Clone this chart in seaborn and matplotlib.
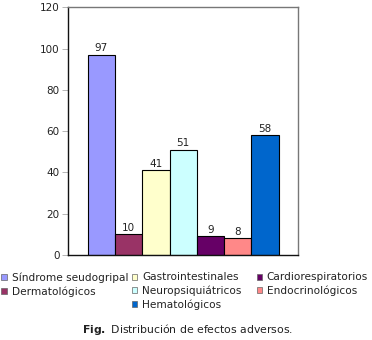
import matplotlib
matplotlib.use("Agg")
import matplotlib.pyplot as plt
from matplotlib.patches import Patch
import seaborn as sns
import pandas as pd

categories = ["Síndrome seudogripal", "Dermatológicos", "Gastrointestinales",
              "Neuropsiquiátricos", "Cardiorespiratorios", "Endocrinológicos",
              "Hematológicos"]
values = [97, 10, 41, 51, 9, 8, 58]
colors = ["#9999FF", "#993366", "#FFFFCC", "#CCFFFF", "#660066", "#FF8888", "#0066CC"]
yticks = [0, 20, 40, 60, 80, 100, 120]

df = pd.DataFrame({"grupo": [""] * len(categories), "efecto": categories, "n": values})

sns.set_style("white")
plt.rcParams["font.family"] = ["DejaVu Sans"]

fig = plt.figure(figsize=(3.72, 3.40), dpi=100)
ax = fig.add_axes([0.183, 0.25, 0.619, 0.7285])

sns.barplot(data=df, x="grupo", y="n", hue="efecto", hue_order=categories,
            palette=colors, width=0.83, edgecolor="black", linewidth=0.8,
            saturation=1, legend=False, ax=ax)

for bar in ax.patches:
    h = bar.get_height()
    ax.text(bar.get_x() + bar.get_width() / 2, h + 0.8, f"{int(round(h))}",
            ha="center", va="bottom", fontsize=7.5, color="#222222")

ax.set_xlim(-0.5, 0.5)
ax.set_ylim(0, 120)
ax.set_yticks(yticks)
ax.set_yticklabels([str(t) for t in yticks], fontsize=7.5, color="#222222")
ax.set_xticks([])
ax.set_xlabel("")
ax.set_ylabel("")
ax.tick_params(axis="y", length=4, width=0.6, color="#aaaaaa", pad=2, left=True)

for side in ["left", "bottom"]:
    ax.spines[side].set_color("#111111")
    ax.spines[side].set_linewidth(1.0)
for side in ["top", "right"]:
    ax.spines[side].set_color("#777777")
    ax.spines[side].set_linewidth(1.0)

# legend in three columns, each placed on its own
def sw(i):
    return Patch(facecolor=colors[i], edgecolor="#666666", linewidth=0.5)

columns = [([0, 1], 0.004), ([2, 3, 6], 0.355), ([4, 5], 0.690)]
for idx, x0 in columns:
    leg = fig.legend([sw(i) for i in idx], [categories[i] for i in idx],
                     loc="upper left", bbox_to_anchor=(x0, 0.199),
                     frameon=False, fontsize=7.6, handlelength=0.5, handleheight=0.5,
                     handletextpad=0.45, labelspacing=0.32,
                     borderaxespad=0, borderpad=0, labelcolor="#222222")

fig.text(0.505, 0.03, r"$\bf{Fig.}$ Distribución de efectos adversos.", ha="center",
         va="center", fontsize=7.8, color="#222222")

fig.savefig("out.png", dpi=100)
